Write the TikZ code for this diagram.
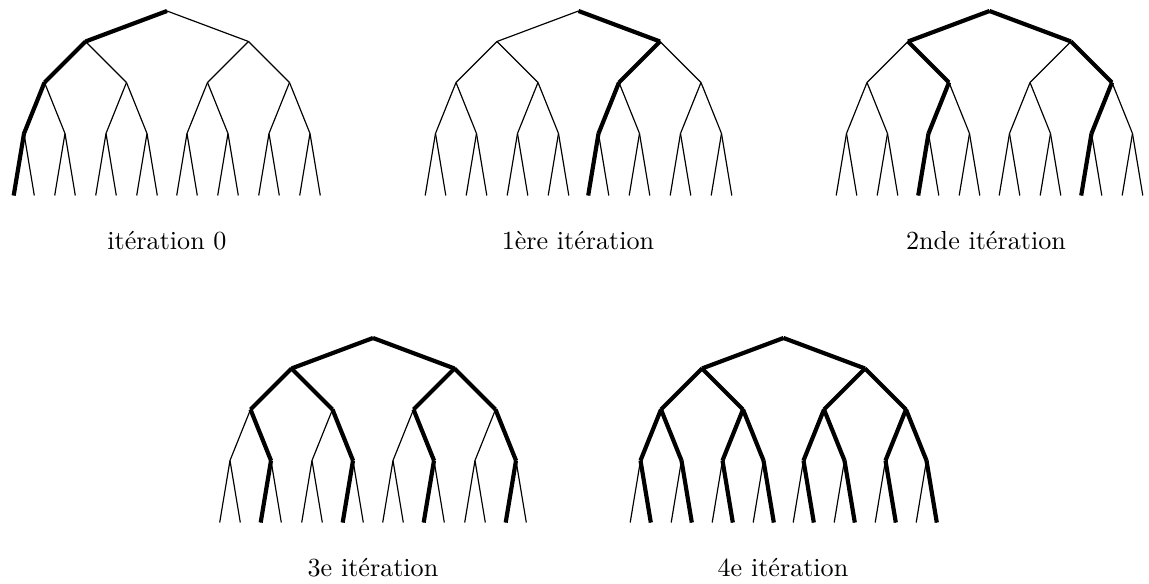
\documentclass[tikz,border=0pt]{standalone}
\begin{document}
\begin{tikzpicture}[x=0.383pt,y=-0.383pt,
  thinedge/.style={line width=0.45pt},
  thickedge/.style={line width=1.6pt},
  caption/.style={anchor=base, inner sep=0pt}]
\useasboundingbox (0,0) rectangle (1149,584);

% Binary tree of depth 4 rooted at (#2,#3); nodes are #1-k in heap order
% (root 1, children of k are 2k and 2k+1). #4 lists the edges drawn thick,
% each given by the index of its lower end.
\newcommand\drawgametree[4]{%
  \coordinate (#1-1) at (#2,#3);
  \foreach \d/\dx/\dy in {1/81.5/30.5, 2/41/41, 3/20.5/51, 4/10.3/62}{
    \pgfmathtruncatemacro\lo{2^(\d-1)}
    \pgfmathtruncatemacro\hi{2^\d-1}
    \foreach \p in {\lo,...,\hi}{
      \pgfmathtruncatemacro\lc{2*\p}
      \pgfmathtruncatemacro\rc{2*\p+1}
      \path (#1-\p) ++(-\dx,\dy) coordinate (#1-\lc);
      \path (#1-\p) ++(\dx,\dy) coordinate (#1-\rc);
      \draw[thinedge] (#1-\p) -- (#1-\lc);
      \draw[thinedge] (#1-\p) -- (#1-\rc);
    }
  }
  \foreach \c in {#4}{
    \pgfmathtruncatemacro\pa{floor(\c/2)}
    \draw[thickedge] (#1-\pa) -- (#1-\c);
  }
}

\drawgametree{ta}{167}{11}{2,4,8,16}
\drawgametree{tb}{578.5}{11}{3,6,12,24}
\drawgametree{tc}{989.5}{11}{2,3,5,7,10,14,20,28}
\drawgametree{td}{373}{338}{2,3,4,5,6,7,9,11,13,15,18,22,26,30}
\drawgametree{te}{783.5}{338}{2,3,4,5,6,7,8,9,10,11,12,13,14,15,17,19,21,23,25,27,29,31}

\node[caption] (capa) at (167,250) {itération 0};
\node[caption] (capb) at (578,250) {1ère itération};
\node[caption] (capc) at (986,250) {2nde itération};
\node[caption] (capd) at (373,577) {3e itération};
\node[caption] (cape) at (783,577) {4e itération};
\end{tikzpicture}
\end{document}
